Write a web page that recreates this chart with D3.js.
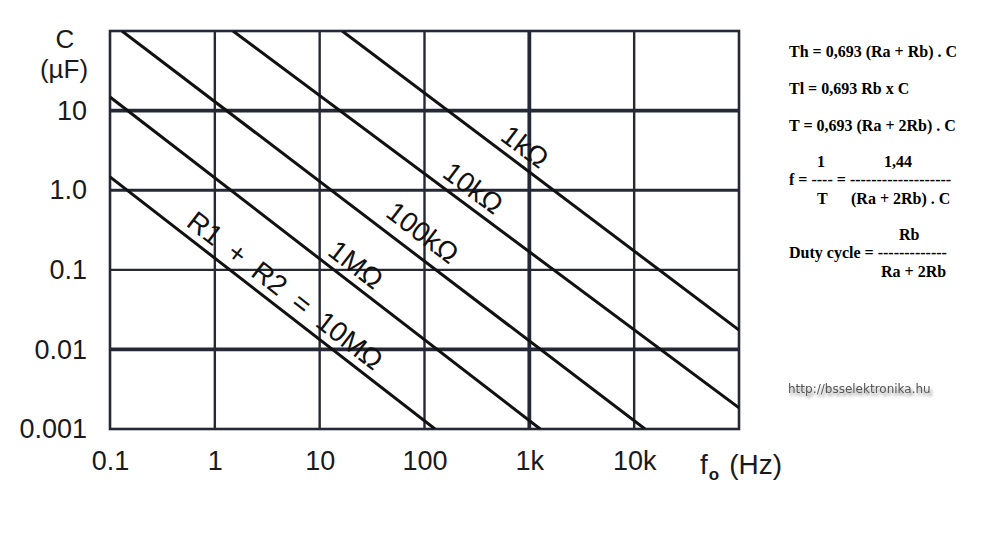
<!DOCTYPE html>
<html>
<head>
<meta charset="utf-8">
<script src="https://cdn.jsdelivr.net/npm/d3@7"></script>
<style>
  html, body { margin: 0; padding: 0; background: #fff; }
  svg { display: block; }
</style>
</head>
<body>
<svg id="chart" width="991" height="544"></svg>
<script>
// ---------- data ----------
const xTicks = [0.1, 1, 10, 100, 1000, 10000];
const xTickLabels = ["0.1", "1", "10", "100", "1k", "10k"];
const yTicks = [0.001, 0.01, 0.1, 1, 10];
const yTickLabels = ["0.001", "0.01", "0.1", "1.0", "10"];
const xGrid = [1, 10, 100, 1000, 10000];
const yGrid = [0.01, 0.1, 1, 10];

const lineNames = ["1kΩ", "10kΩ", "100kΩ", "1MΩ", "R1 + R2 = 10MΩ"];
// endpoints: [frequency Hz, capacitance µF]
const lineStart = [[16.4, 100], [1.49, 100], [0.13, 100], [0.1, 14.8], [0.1, 1.47]];
const lineEnd = [[100000, 0.0175], [100000, 0.00184], [12700, 0.001], [1270, 0.001], [126, 0.001]];
// frequency at which each label is centred
const labelAt = [720, 232, 72, 17.5, 3.7];

const formulas = [
  "Th = 0,693 (Ra + Rb) . C",
  "Tl = 0,693 Rb x C",
  "T = 0,693 (Ra + 2Rb) . C"
];

// ---------- chart ----------
const svg = d3.select("#chart");
const L = 110, R = 739, T = 31, B = 429;
const x = d3.scaleLog().domain([0.1, 100000]).range([L, R]);
const y = d3.scaleLog().domain([0.001, 100]).range([B, T]);

const gridColor = "#262836";
const heavyX = new Set([1000]);
const heavyY = new Set([10, 0.01]);

const defs = svg.append("defs");
defs.append("clipPath").attr("id", "plotclip")
  .append("rect").attr("x", L).attr("y", T).attr("width", R - L).attr("height", B - T);
const f = defs.append("filter").attr("id", "shadow").attr("x", "-10%").attr("y", "-50%").attr("width", "130%").attr("height", "250%");
f.append("feGaussianBlur").attr("in", "SourceAlpha").attr("stdDeviation", 1.6).attr("result", "b");
f.append("feOffset").attr("in", "b").attr("dx", 2).attr("dy", 3).attr("result", "o");
f.append("feComponentTransfer").attr("in", "o").attr("result", "o2")
  .append("feFuncA").attr("type", "linear").attr("slope", 0.45);
const fm = f.append("feMerge");
fm.append("feMergeNode").attr("in", "o2");
fm.append("feMergeNode").attr("in", "SourceGraphic");

// grid
svg.append("g").selectAll("line").data(xGrid).join("line")
  .attr("x1", d => x(d)).attr("x2", d => x(d)).attr("y1", T).attr("y2", B)
  .attr("stroke", gridColor).attr("stroke-width", d => heavyX.has(d) ? 3.8 : 2.4);
svg.append("g").selectAll("line").data(yGrid).join("line")
  .attr("y1", d => y(d)).attr("y2", d => y(d)).attr("x1", L).attr("x2", R)
  .attr("stroke", gridColor).attr("stroke-width", d => heavyY.has(d) ? 3.8 : (d === 1 ? 3 : 2.2));
// frame
svg.append("rect").attr("x", L).attr("y", T).attr("width", R - L).attr("height", B - T)
  .attr("fill", "none").attr("stroke", gridColor).attr("stroke-width", 2.6);

// diagonal lines
const series = lineNames.map((n, i) => ({ name: n, pts: [lineStart[i], lineEnd[i]], at: labelAt[i] }));
const line = d3.line().x(d => x(d[0])).y(d => y(d[1]));
svg.append("g").attr("clip-path", "url(#plotclip)")
  .selectAll("path").data(series).join("path")
  .attr("d", d => line(d.pts))
  .attr("fill", "none").attr("stroke", "#111").attr("stroke-width", 3);

// labels on lines
const lab = svg.append("g");
series.forEach((s, i) => {
  const [p0, p1] = s.pts;
  const x0 = x(p0[0]), y0 = y(p0[1]), x1 = x(p1[0]), y1 = y(p1[1]);
  const ang = Math.atan2(y1 - y0, x1 - x0) * 180 / Math.PI;
  const px = x(s.at);
  const t = (px - x0) / (x1 - x0);
  const py = y0 + t * (y1 - y0);
  lab.append("text")
    .attr("transform", `translate(${px},${py}) rotate(${ang})`)
    .attr("text-anchor", "middle")
    .attr("dy", i === 2 ? -12 : -8)
    .attr("font-family", "Liberation Sans, Arial, sans-serif")
    .attr("font-size", 28)
    .attr("word-spacing", i === 4 ? 7 : 0)
    .attr("fill", "#111")
    .text(s.name);
});

// axes
const axFont = "Liberation Sans, Arial, sans-serif";
const gx = svg.append("g").attr("transform", `translate(0,${B})`)
  .call(d3.axisBottom(x).tickValues(xTicks).tickFormat((d, i) => xTickLabels[i]).tickSize(0).tickPadding(22));
gx.select(".domain").remove();
gx.selectAll("text").attr("font-family", axFont).attr("font-size", 27).attr("fill", "#1a1a1a");

const gy = svg.append("g").attr("transform", `translate(${L},0)`)
  .call(d3.axisLeft(y).tickValues(yTicks).tickFormat((d, i) => yTickLabels[i]).tickSize(0).tickPadding(23));
gy.select(".domain").remove();
gy.selectAll("text").attr("font-family", axFont).attr("font-size", 27).attr("fill", "#1a1a1a");

// axis titles
svg.append("text").attr("x", 65).attr("y", 48).attr("text-anchor", "middle")
  .attr("font-family", axFont).attr("font-size", 26).attr("fill", "#1a1a1a").text("C");
svg.append("text").attr("x", 64).attr("y", 78).attr("text-anchor", "middle")
  .attr("font-family", axFont).attr("font-size", 26).attr("fill", "#1a1a1a").text("(µF)");
const xt = svg.append("text").attr("x", 700).attr("y", 474)
  .attr("font-family", axFont).attr("font-size", 28).attr("fill", "#1a1a1a");
xt.append("tspan").text("f");
xt.append("tspan").attr("font-size", 17).attr("dy", 6).attr("dx", 1).attr("font-weight", "bold").text("o");
xt.append("tspan").attr("dy", -6).attr("dx", 10).text("(Hz)");

// formulas
const fFont = "Liberation Serif, Times New Roman, serif";
const ft = svg.append("g").attr("font-family", fFont).attr("font-size", 16).attr("font-weight", "bold").attr("fill", "#000");
formulas.forEach((s, i) => {
  ft.append("text").attr("x", 789).attr("y", 57 + i * 37).text(s);
});
ft.append("text").attr("x", 817).attr("y", 167).text("1");
ft.append("text").attr("x", 884).attr("y", 167).text("1,44");
ft.append("text").attr("x", 789).attr("y", 185).text("f = ---- = -------------------");
ft.append("text").attr("x", 817).attr("y", 204).text("T");
ft.append("text").attr("x", 851).attr("y", 204).text("(Ra + 2Rb) . C");
ft.append("text").attr("x", 899).attr("y", 240).text("Rb");
ft.append("text").attr("x", 789).attr("y", 258).text("Duty cycle = -------------");
ft.append("text").attr("x", 881).attr("y", 277).text("Ra + 2Rb");

// url
svg.append("text").attr("x", 788).attr("y", 393)
  .attr("font-family", "DejaVu Sans, Verdana, sans-serif").attr("font-size", 12)
  .attr("fill", "#555").attr("filter", "url(#shadow)")
  .text("http://bsselektronika.hu");
</script>
</body>
</html>
